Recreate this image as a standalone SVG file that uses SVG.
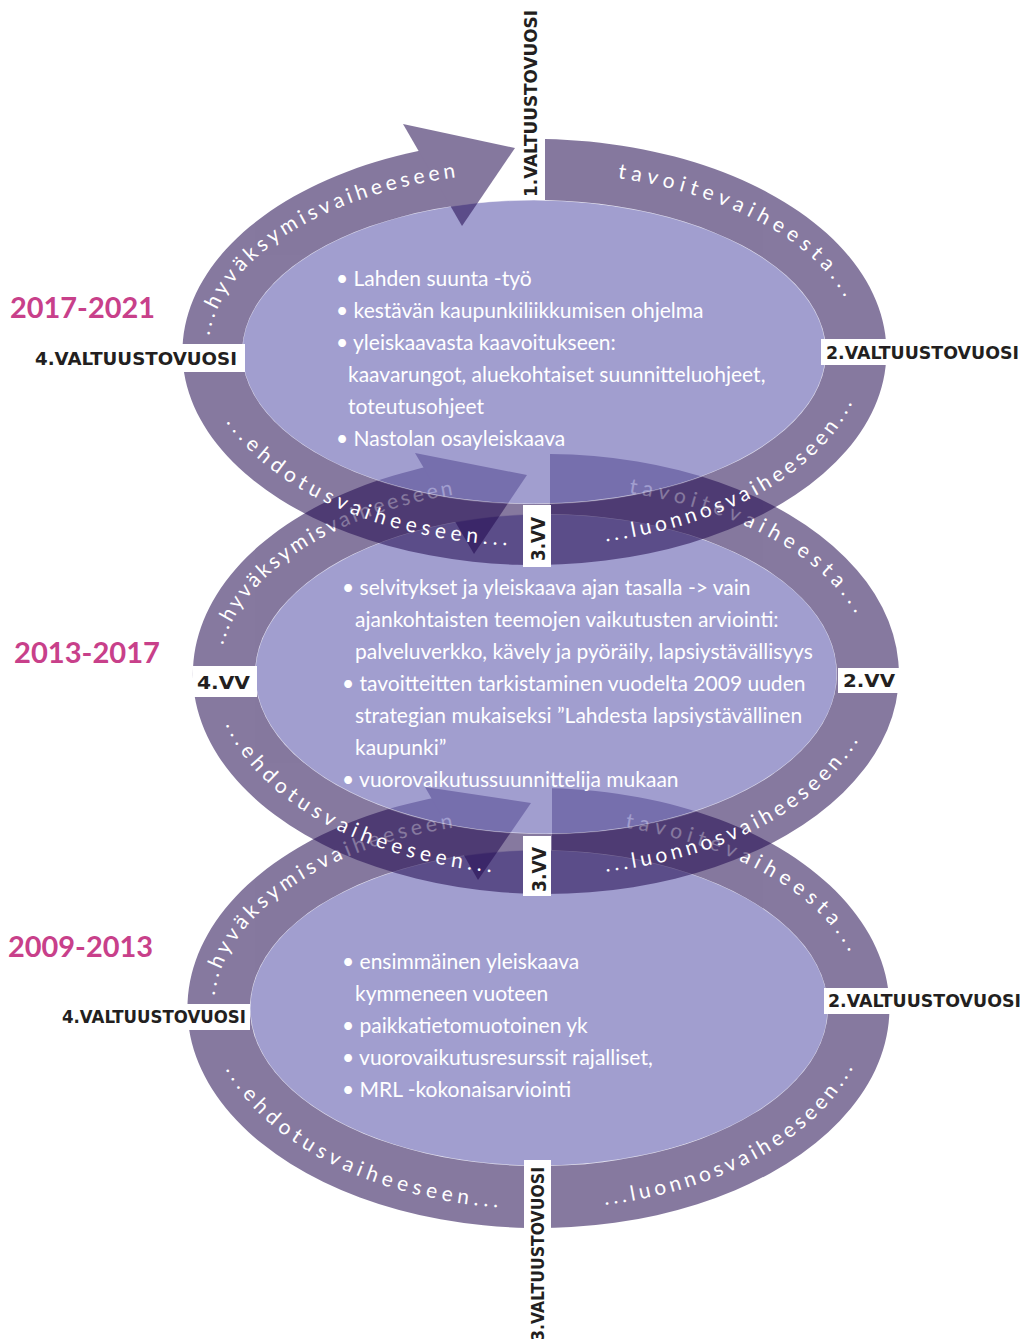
<svg xmlns="http://www.w3.org/2000/svg" width="1027" height="1339" viewBox="0 0 1027 1339">
<style>
.inner{fill:rgb(111,106,182);fill-opacity:.65;stroke:#ffffff;stroke-opacity:.55;stroke-width:1.2}
.band{opacity:.545}
.band path,.band polygon{fill:rgb(33,9,79)}
.rt{font-family:Lato,"Open Sans",sans-serif;font-size:21px;fill:#ffffff;letter-spacing:5.5px}
.ul{letter-spacing:4px}
.ul3{letter-spacing:3px}
.ll{letter-spacing:5px}
.lr{letter-spacing:4px}
.bt{font-family:Lato,"Open Sans",sans-serif;font-size:21px;fill:#ffffff}
.lbl{font-family:"DejaVu Sans",sans-serif;font-weight:bold;font-size:17px;fill:#231f20}
.yr{font-family:Lato,"Open Sans",sans-serif;font-weight:bold;font-size:28px;fill:#c8408a}
.box{fill:#ffffff}
</style>
<defs>
<path id="tT1" d="M208.8,364.56 A326,180 0 0 1 488.63,173.75"/>
<path id="tT2" d="M585,174.22 A326,180 0 0 1 858.21,333.18"/>
<path id="tT3" d="M206.46,375.64 A330,194 0 0 0 562.76,545.26"/>
<path id="tT4" d="M565.63,545.11 A330,194 0 0 0 863.69,360.46"/>
<path id="tM1" d="M219.45,683.79 A327,187 0 0 1 494.85,489.3"/>
<path id="tM2" d="M597.15,489.3 A327,187 0 0 1 869.82,647.98"/>
<path id="tM3" d="M215.11,679.26 A331,201 0 0 0 543.11,874.99"/>
<path id="tM4" d="M566.21,874.62 A331,201 0 0 0 874.17,700.24"/>
<path id="tB1" d="M214.79,1021.05 A325,187 0 0 1 482.56,823.84"/>
<path id="tB2" d="M595.44,823.84 A325,187 0 0 1 861.58,985.21"/>
<path id="tB3" d="M210.45,1018.52 A329,201 0 0 0 556.22,1208.72"/>
<path id="tB4" d="M567.68,1208.23 A329,201 0 0 0 866.2,1029.01"/>
</defs>
<rect width="1027" height="1339" fill="#ffffff"/>

<g id="ring-2009-2013">
<ellipse class="inner" cx="539" cy="1008" rx="289" ry="158"/>
<g class="band">
<path d="M552,788.2 A351,220 0 1 1 460,793.6 L470,854.6 A289,158 0 1 0 552,850.2 Z"/>
<polygon points="425,787 531,803 478,880"/>
</g>
<text class="rt ul"><textPath href="#tB1" startOffset="50%" text-anchor="middle">...hyväksymisvaiheeseen</textPath></text>
<text class="rt"><textPath href="#tB2" startOffset="50%" text-anchor="middle">tavoitevaiheesta...</textPath></text>
<text class="rt ll"><textPath href="#tB3" startOffset="50%" text-anchor="middle">...ehdotusvaiheeseen...</textPath></text>
<text class="rt lr"><textPath href="#tB4" startOffset="50%" text-anchor="middle">...luonnosvaiheeseen...</textPath></text>
<text class="bt" x="342" y="969">• ensimmäinen yleiskaava</text>
<text class="bt" x="355" y="1001">kymmeneen vuoteen</text>
<text class="bt" x="342" y="1033">• paikkatietomuotoinen yk</text>
<text class="bt" x="342" y="1065">• vuorovaikutusresurssit rajalliset,</text>
<text class="bt" x="342" y="1097">• MRL -kokonaisarviointi</text>
<rect class="box" x="55" y="1004" width="195" height="26"/>
<text class="lbl" x="62" y="1023" textLength="184" lengthAdjust="spacingAndGlyphs">4.VALTUUSTOVUOSI</text>
<rect class="box" x="824" y="988" width="203" height="26"/>
<text class="lbl" x="828" y="1007" textLength="193" lengthAdjust="spacingAndGlyphs">2.VALTUUSTOVUOSI</text>
<rect class="box" x="524" y="1160" width="27" height="179"/>
<text class="lbl" transform="translate(544,1341) rotate(-90)" textLength="174" lengthAdjust="spacingAndGlyphs">3.VALTUUSTOVUOSI</text>
</g>

<g id="ring-2013-2017">
<ellipse class="inner" cx="546" cy="674" rx="291" ry="160"/>
<g class="band">
<path d="M550,454 A353,220 0 1 1 455,461.4 L465,520.3 A291,160 0 1 0 550,514 Z"/>
<polygon points="415,453 527,475 474,554"/>
</g>
<text class="rt ul3"><textPath href="#tM1" startOffset="50%" text-anchor="middle">...hyväksymisvaiheeseen</textPath></text>
<text class="rt"><textPath href="#tM2" startOffset="50%" text-anchor="middle">tavoitevaiheesta...</textPath></text>
<text class="rt ll"><textPath href="#tM3" startOffset="50%" text-anchor="middle">...ehdotusvaiheeseen...</textPath></text>
<text class="rt lr"><textPath href="#tM4" startOffset="50%" text-anchor="middle">...luonnosvaiheeseen...</textPath></text>
<text class="bt" x="342" y="595">• selvitykset ja yleiskaava ajan tasalla -&gt; vain</text>
<text class="bt" x="355" y="627">ajankohtaisten teemojen vaikutusten arviointi:</text>
<text class="bt" x="355" y="659">palveluverkko, kävely ja pyöräily, lapsiystävällisyys</text>
<text class="bt" x="342" y="691">• tavoitteitten tarkistaminen vuodelta 2009 uuden</text>
<text class="bt" x="355" y="723">strategian mukaiseksi ”Lahdesta lapsiystävällinen</text>
<text class="bt" x="355" y="755">kaupunki”</text>
<text class="bt" x="342" y="787">• vuorovaikutussuunnittelija mukaan</text>
<rect class="box" x="193" y="666" width="64" height="31"/>
<text class="lbl" x="197" y="689" textLength="53" lengthAdjust="spacingAndGlyphs">4.VV</text>
<rect class="box" x="838" y="668" width="61" height="25"/>
<text class="lbl" x="843" y="687" textLength="52" lengthAdjust="spacingAndGlyphs">2.VV</text>
<rect class="box" x="523" y="836" width="28" height="60"/>
<text class="lbl" style="font-size:20px" transform="translate(546,892) rotate(-90)" textLength="45" lengthAdjust="spacingAndGlyphs">3.VV</text>
</g>

<g id="ring-2017-2021">
<ellipse class="inner" cx="534" cy="352" rx="292" ry="152"/>
<g class="band">
<path d="M545,139.1 A352,213 0 1 1 470,142.6 L470,203.7 A292,152 0 1 0 545,200.1 Z"/>
<polygon points="403,124 515,148 462,226"/>
</g>
<text class="rt ul"><textPath href="#tT1" startOffset="50%" text-anchor="middle">...hyväksymisvaiheeseen</textPath></text>
<text class="rt"><textPath href="#tT2" startOffset="50%" text-anchor="middle">tavoitevaiheesta...</textPath></text>
<text class="rt ll"><textPath href="#tT3" startOffset="50%" text-anchor="middle">...ehdotusvaiheeseen...</textPath></text>
<text class="rt lr"><textPath href="#tT4" startOffset="50%" text-anchor="middle">...luonnosvaiheeseen...</textPath></text>
<text class="bt" x="336" y="286">• Lahden suunta -työ</text>
<text class="bt" x="336" y="318">• kestävän kaupunkiliikkumisen ohjelma</text>
<text class="bt" x="336" y="350">• yleiskaavasta kaavoitukseen:</text>
<text class="bt" x="348" y="382">kaavarungot, aluekohtaiset suunnitteluohjeet,</text>
<text class="bt" x="348" y="414">toteutusohjeet</text>
<text class="bt" x="336" y="446">• Nastolan osayleiskaava</text>
<rect class="box" x="30" y="344" width="215" height="28"/>
<text class="lbl" x="35" y="365" textLength="202" lengthAdjust="spacingAndGlyphs">4.VALTUUSTOVUOSI</text>
<rect class="box" x="821" y="339" width="206" height="26"/>
<text class="lbl" x="826" y="359" textLength="193" lengthAdjust="spacingAndGlyphs">2.VALTUUSTOVUOSI</text>
<text class="lbl" transform="translate(537,197) rotate(-90)" textLength="187" lengthAdjust="spacingAndGlyphs">1.VALTUUSTOVUOSI</text>
<rect class="box" x="523" y="505" width="28" height="62"/>
<text class="lbl" style="font-size:20px" transform="translate(545,561) rotate(-90)" textLength="44" lengthAdjust="spacingAndGlyphs">3.VV</text>
</g>

<g id="years">
<text class="yr" x="10" y="318" textLength="145" lengthAdjust="spacingAndGlyphs">2017-2021</text>
<text class="yr" x="14" y="663" textLength="146" lengthAdjust="spacingAndGlyphs">2013-2017</text>
<text class="yr" x="8" y="957" textLength="145" lengthAdjust="spacingAndGlyphs">2009-2013</text>
</g>
</svg>
